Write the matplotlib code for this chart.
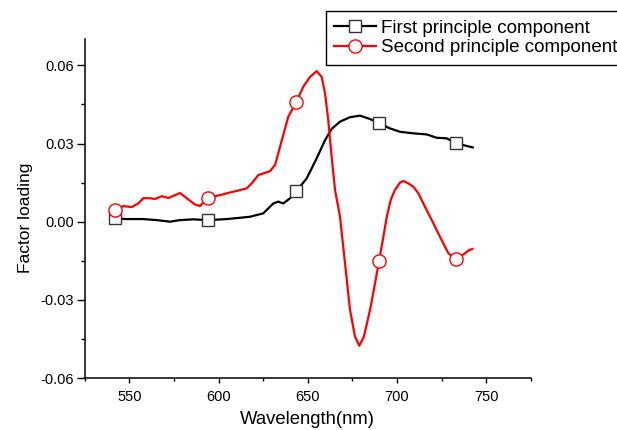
import numpy as np
import matplotlib
matplotlib.use("Agg")
import matplotlib.pyplot as plt
from matplotlib.ticker import MultipleLocator

plt.rcParams['font.family'] = ['Liberation Sans', 'DejaVu Sans']

# values
wl_first = [542, 548.5, 557.8, 565.4, 572.8, 578.4, 585.9, 594, 604.6, 612.0,
            617.7, 625.1, 630.7, 633.5, 636.3, 640.1, 643.5, 649.4, 655.0, 659.7,
            663.4, 668.1, 673.7, 679.3, 684.9, 690, 696.1, 701.7, 709.2, 716.7,
            722.3, 727.9, 733, 742.5]
load_first = [0.0013, 0.0010, 0.0010, 0.0006, 0.0000, 0.0006, 0.0009, 0.0006, 0.0010, 0.0015,
              0.0019, 0.0032, 0.0070, 0.0077, 0.0070, 0.0090, 0.0116, 0.0166, 0.0243, 0.0313,
              0.0356, 0.0384, 0.0401, 0.0407, 0.0394, 0.0378, 0.0358, 0.0345, 0.0339, 0.0335,
              0.0322, 0.0320, 0.0301, 0.0285]

wl_second = [542, 546.6, 551.3, 555.0, 557.8, 561.6, 564.4, 568.2, 571.9, 578.4,
             582.2, 586.8, 589.6, 594, 600.8, 606.4, 610.2, 615.8, 618.6, 622.3,
             628.9, 631.7, 634.5, 639.1, 643.5, 647.5, 651.3, 655.0, 657.8, 659.7,
             661.5, 663.4, 665.3, 668.1, 670.9, 673.7, 676.5, 678.9, 681.5, 684.9,
             687.7, 690, 692.4, 694.3, 696.5, 698.9, 701.7, 703.6, 706.4, 709.2,
             712.0, 714.8, 717.6, 720.4, 723.2, 726.0, 728.8, 733, 735.4, 738.2,
             740.4, 742.3]
load_second = [0.0045, 0.0060, 0.0056, 0.0070, 0.0090, 0.0090, 0.0087, 0.0098, 0.0091, 0.0110,
               0.0090, 0.0066, 0.0060, 0.0092, 0.0102, 0.0112, 0.0118, 0.0128, 0.0147, 0.0179,
               0.0194, 0.0218, 0.0288, 0.0403, 0.0458, 0.0518, 0.0556, 0.0578, 0.0556, 0.0493,
               0.0390, 0.0249, 0.0122, 0.0019, -0.0160, -0.0339, -0.0441, -0.0476, -0.0441, -0.0339,
               -0.0237, -0.0150, -0.0058, 0.0019, 0.0083, 0.0122, 0.0150, 0.0156, 0.0147, 0.0134,
               0.0109, 0.0070, 0.0032, -0.0006, -0.0045, -0.0083, -0.0121, -0.0142, -0.0134, -0.0121,
               -0.0109, -0.0105]

mark_wl = [542, 594, 643.5, 690, 733]
labels = ['First principle component', 'Second principle component']

def mark_idx(wl):
    wl = np.asarray(wl)
    return [int(np.argmin(np.abs(wl - m))) for m in mark_wl]

fig = plt.figure(figsize=(6.17, 4.30), dpi=100)
ax = fig.add_axes([0.1373, 0.1209, 0.7229, 0.7877])

ax.plot(wl_first, load_first, color='black', lw=1.6, marker='s', ms=8.5,
        mfc='white', mec='#333333', mew=1.0, markevery=mark_idx(wl_first),
        label=labels[0])
ax.plot(wl_second, load_second, color='red', lw=1.6, marker='o', ms=9.5,
        mfc='white', mec='red', mew=1.0, markevery=mark_idx(wl_second),
        label=labels[1])

ax.set_xlim(525, 775)
ax.set_ylim(-0.06, 0.07)
ax.xaxis.set_minor_locator(MultipleLocator(25))
ax.yaxis.set_minor_locator(MultipleLocator(0.015))
ax.set_yticks([-0.06, -0.03, 0.0, 0.03, 0.06])
ax.set_yticklabels(['-0.06', '-0.03', '0.00', '0.03', '0.06'])
ax.set_xticks([550, 600, 650, 700, 750])

for s in ['top', 'right']:
    ax.spines[s].set_visible(False)
for s in ['left', 'bottom']:
    ax.spines[s].set_linewidth(1.1)

ax.tick_params(axis='y', which='major', direction='out', length=5.5, width=1.0,
               labelsize=10.5, pad=2)
ax.tick_params(axis='y', which='minor', direction='out', length=3, width=1.0)
ax.tick_params(axis='x', which='major', direction='out', length=3.4, width=1.0,
               labelsize=10.5, pad=5.5)
ax.tick_params(axis='x', which='minor', direction='out', length=2.2, width=1.0)

ax.set_xlabel('Wavelength(nm)', fontsize=13.3, labelpad=4.5)
ax.set_ylabel('Factor loading', fontsize=12.5)
ax.yaxis.set_label_coords(-0.115, 0.472)

leg = fig.legend(loc='upper left', bbox_to_anchor=(326 / 617, 1 - 11 / 430),
                 borderaxespad=0, fontsize=13.5, numpoints=1, handlelength=2.2,
                 handletextpad=0.3, labelspacing=0.15, borderpad=0.45,
                 fancybox=False, framealpha=1, edgecolor='black')
leg.get_frame().set_linewidth(1.0)

fig.savefig('out.png', dpi=100)
